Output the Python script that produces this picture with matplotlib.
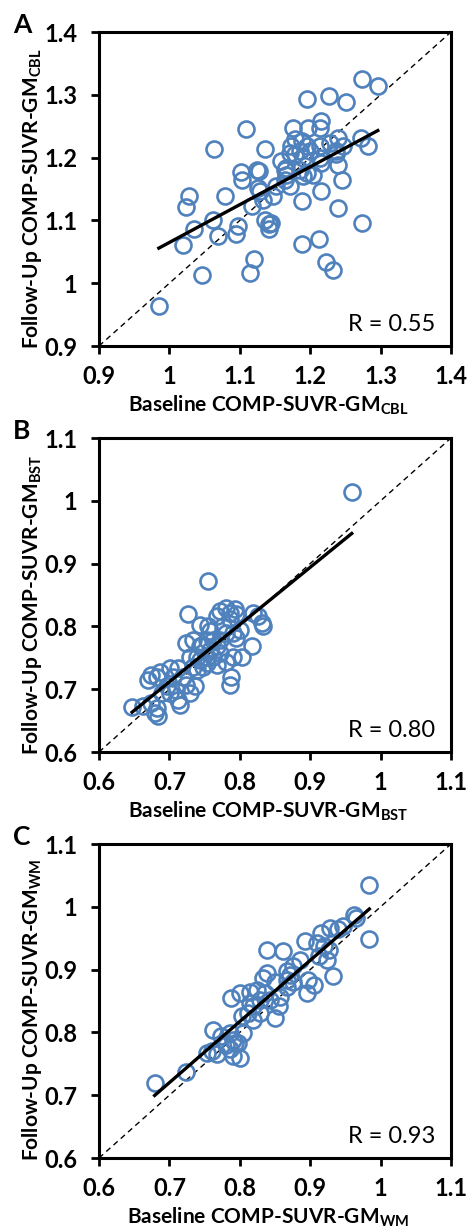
import numpy as np
import matplotlib
matplotlib.use("Agg")
import matplotlib.pyplot as plt

plt.rcParams['font.family'] = ['Lato', 'DejaVu Sans']
plt.rcParams['mathtext.fontset'] = 'custom'
plt.rcParams['mathtext.bf'] = 'Lato:bold'
plt.rcParams['mathtext.rm'] = 'Lato'

# panel A: cerebellum reference
cbl_base = [0.985, 1.046, 1.114, 1.120, 1.020, 1.024, 1.028, 1.035, 1.062, 1.069,
            1.079, 1.064, 1.109, 1.094, 1.098, 1.101, 1.103, 1.124, 1.127, 1.126,
            1.129, 1.117, 1.133, 1.136, 1.136, 1.141, 1.142, 1.145, 1.147, 1.152,
            1.159, 1.164, 1.166, 1.164, 1.171, 1.176, 1.178, 1.173, 1.172, 1.178,
            1.185, 1.189, 1.196, 1.185, 1.190, 1.190, 1.188, 1.188, 1.195, 1.197,
            1.200, 1.195, 1.204, 1.213, 1.216, 1.216, 1.214, 1.214, 1.228, 1.214,
            1.216, 1.226, 1.223, 1.233, 1.237, 1.240, 1.240, 1.247, 1.240, 1.245,
            1.251, 1.273, 1.272, 1.282, 1.273, 1.296, 1.237, 1.166]
cbl_follow = [0.963, 1.013, 1.016, 1.038, 1.061, 1.122, 1.139, 1.087, 1.101, 1.075,
              1.139, 1.214, 1.245, 1.078, 1.091, 1.177, 1.165, 1.180, 1.178, 1.152,
              1.147, 1.123, 1.133, 1.213, 1.101, 1.095, 1.087, 1.096, 1.139, 1.155,
              1.194, 1.181, 1.173, 1.165, 1.155, 1.247, 1.229, 1.218, 1.208, 1.205,
              1.210, 1.226, 1.218, 1.181, 1.200, 1.170, 1.131, 1.063, 1.293, 1.247,
              1.210, 1.176, 1.173, 1.071, 1.147, 1.258, 1.247, 1.218, 1.223, 1.200,
              1.192, 1.298, 1.033, 1.021, 1.205, 1.189, 1.231, 1.218, 1.120, 1.165,
              1.288, 1.325, 1.231, 1.219, 1.096, 1.314, 1.210, 1.184]

# panel B: brainstem reference
bst_base = [0.959, 0.755, 0.727, 0.647, 0.772, 0.781, 0.786, 0.793, 0.795, 0.826,
            0.831, 0.833, 0.743, 0.755, 0.757, 0.776, 0.781, 0.724, 0.734, 0.746,
            0.753, 0.762, 0.795, 0.817, 0.803, 0.729, 0.739, 0.743, 0.753, 0.762,
            0.772, 0.781, 0.767, 0.748, 0.701, 0.686, 0.674, 0.670, 0.682, 0.712,
            0.720, 0.736, 0.724, 0.788, 0.786, 0.701, 0.710, 0.712, 0.729, 0.674,
            0.682, 0.679, 0.684, 0.715, 0.663, 0.689, 0.739, 0.753, 0.791, 0.767,
            0.791, 0.786, 0.767, 0.819, 0.800, 0.743, 0.757, 0.772, 0.734, 0.705,
            0.696]
bst_follow = [1.014, 0.873, 0.819, 0.672, 0.824, 0.829, 0.821, 0.827, 0.819, 0.816,
              0.805, 0.800, 0.803, 0.800, 0.792, 0.800, 0.789, 0.774, 0.779, 0.771,
              0.779, 0.779, 0.782, 0.768, 0.752, 0.752, 0.752, 0.747, 0.752, 0.752,
              0.758, 0.744, 0.739, 0.736, 0.734, 0.728, 0.723, 0.715, 0.720, 0.734,
              0.720, 0.705, 0.707, 0.720, 0.707, 0.694, 0.699, 0.683, 0.694, 0.678,
              0.670, 0.662, 0.658, 0.675, 0.673, 0.694, 0.731, 0.742, 0.752, 0.768,
              0.789, 0.811, 0.816, 0.821, 0.795, 0.768, 0.763, 0.779, 0.736, 0.720,
              0.705]

# panel C: white matter reference
wm_base = [0.984, 0.983, 0.679, 0.723, 0.962, 0.965, 0.940, 0.928, 0.916, 0.893,
           0.909, 0.919, 0.926, 0.912, 0.924, 0.932, 0.838, 0.861, 0.876, 0.867,
           0.905, 0.895, 0.838, 0.833, 0.850, 0.814, 0.800, 0.788, 0.824, 0.836,
           0.855, 0.850, 0.814, 0.812, 0.803, 0.762, 0.774, 0.786, 0.798, 0.786,
           0.800, 0.760, 0.767, 0.871, 0.897, 0.867, 0.876, 0.819, 0.829, 0.793,
           0.781, 0.791, 0.829, 0.843, 0.886, 0.947, 0.857, 0.867, 0.819, 0.753,
           0.791, 0.805]
wm_follow = [1.035, 0.948, 0.720, 0.737, 0.987, 0.982, 0.964, 0.966, 0.958, 0.945,
             0.942, 0.937, 0.932, 0.921, 0.916, 0.890, 0.931, 0.929, 0.905, 0.897,
             0.876, 0.863, 0.895, 0.887, 0.881, 0.865, 0.863, 0.855, 0.868, 0.863,
             0.842, 0.823, 0.847, 0.831, 0.826, 0.804, 0.794, 0.799, 0.783, 0.773,
             0.759, 0.770, 0.765, 0.892, 0.884, 0.873, 0.881, 0.842, 0.852, 0.783,
             0.780, 0.788, 0.831, 0.852, 0.916, 0.969, 0.857, 0.884, 0.820, 0.767,
             0.762, 0.799]

panels = [
    ('A', cbl_base, cbl_follow, 'CBL', 'R = 0.55', (0.9, 1.4), [0.9, 1.0, 1.1, 1.2, 1.3, 1.4]),
    ('B', bst_base, bst_follow, 'BST', 'R = 0.80', (0.6, 1.1), [0.6, 0.7, 0.8, 0.9, 1.0, 1.1]),
    ('C', wm_base, wm_follow, 'WM', 'R = 0.93', (0.6, 1.1), [0.6, 0.7, 0.8, 0.9, 1.0, 1.1]),
]

blue = '#4F81BD'
fig = plt.figure(figsize=(4.70, 12.29), dpi=100)

tops = [32, 438, 844]
for (letter, xb, yf, sub, rtxt, lim, ticks), top in zip(panels, tops):
    ax = fig.add_axes([99 / 470, 1 - (top + 314) / 1229, 352 / 470, 314 / 1229])
    xb = np.array(xb)
    yf = np.array(yf)
    ax.plot(lim, lim, ls=(0, (4, 3)), color='black', lw=1.0, zorder=1)
    ax.plot(xb, yf, 'o', mfc='none', mec=blue, ms=11.5, mew=1.9, zorder=2)
    k, b = np.polyfit(xb, yf, 1)
    xs = np.array([xb.min(), xb.max()])
    ax.plot(xs, k * xs + b, color='black', lw=2.4, zorder=3)

    ax.set_xlim(lim)
    ax.set_ylim(lim)
    ax.set_xticks(ticks)
    ax.set_yticks(ticks)
    labels = ['%g' % t for t in ticks]
    ax.set_xticklabels(labels, fontweight='bold', fontsize=17)
    ax.set_yticklabels(labels, fontweight='bold', fontsize=17)
    ax.tick_params(direction='out', length=5.5, width=2)
    ax.tick_params(axis='x', pad=8)
    ax.tick_params(axis='y', pad=10)
    for s in ax.spines.values():
        s.set_linewidth(2.2)

    ax.set_xlabel('Baseline COMP-SUVR-GM$_{\\mathbf{%s}}$' % sub,
                  fontweight='bold', fontsize=15)
    ax.set_ylabel('Follow-Up COMP-SUVR-GM$_{\\mathbf{%s}}$' % sub,
                  fontweight='bold', fontsize=15)
    ax.xaxis.set_label_coords(0.48, -0.15)
    ax.yaxis.set_label_coords(-0.155, 0.47)
    ax.text(0.955, 0.07, rtxt, transform=ax.transAxes, ha='right', va='center',
            fontsize=17)
    fig.text(22 / 470, 1 - (top - 7) / 1229, letter, fontsize=19, fontweight='bold',
             ha='center', va='center')

fig.savefig('out.png', dpi=100)
